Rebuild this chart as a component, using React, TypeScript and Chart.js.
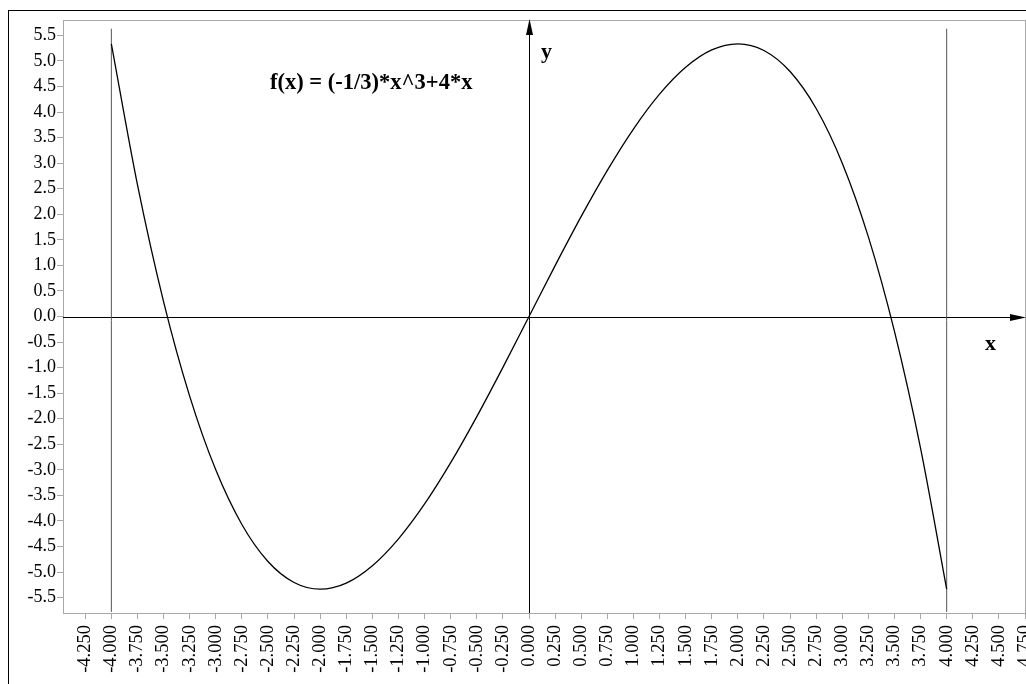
import { useEffect, useRef } from 'react';
import { Chart, registerables } from 'chart.js';

Chart.register(...registerables);

// Curve samples: f(x) = (-1/3)*x^3 + 4*x
const CURVE_X = [
  -4, -3.75, -3.5, -3.25, -3, -2.75, -2.5, -2.25, -2, -1.75, -1.5, -1.25, -1, -0.75, -0.5, -0.25,
  0, 0.25, 0.5, 0.75, 1, 1.25, 1.5, 1.75, 2, 2.25, 2.5, 2.75, 3, 3.25, 3.5, 3.75, 4,
];
const CURVE_Y = [
  5.333, 2.578, 0.292, -1.557, -3.0, -4.068, -4.792, -5.203, -5.333, -5.214, -4.875, -4.349, -3.667,
  -2.859, -1.958, -0.995, 0, 0.995, 1.958, 2.859, 3.667, 4.349, 4.875, 5.214, 5.333, 5.203, 4.792,
  4.068, 3.0, 1.557, -0.292, -2.578, -5.333,
];

// Vertical boundary lines at the interval ends
const BOUNDARY_X = [-4, 4];
const BOUNDARY_Y = [-5.78, 5.63];

// Axis ticks
const X_TICKS = [
  -4.25, -4, -3.75, -3.5, -3.25, -3, -2.75, -2.5, -2.25, -2, -1.75, -1.5, -1.25, -1, -0.75, -0.5,
  -0.25, 0, 0.25, 0.5, 0.75, 1, 1.25, 1.5, 1.75, 2, 2.25, 2.5, 2.75, 3, 3.25, 3.5, 3.75, 4, 4.25,
  4.5, 4.75,
];
const Y_TICKS = [
  -5.5, -5, -4.5, -4, -3.5, -3, -2.5, -2, -1.5, -1, -0.5, 0, 0.5, 1, 1.5, 2, 2.5, 3, 3.5, 4, 4.5,
  5, 5.5,
];
const X_RANGE = [-4.463, 4.75];
const Y_RANGE = [-5.8, 5.8];

const FORMULA = 'f(x) = (-1/3)*x^3+4*x';
const X_NAME = 'x';
const Y_NAME = 'y';

const FONT = '"Liberation Serif", "Times New Roman", Times, serif';

export default function App() {
  const ref = useRef<HTMLCanvasElement | null>(null);

  useEffect(() => {
    const canvas = ref.current;
    if (!canvas) return;

    const decor = {
      id: 'decor',
      beforeDatasetsDraw(chart: any) {
        const { ctx, chartArea: a, scales } = chart;
        const x0 = Math.round(scales.x.getPixelForValue(0)) + 0.5;
        const y0 = Math.round(scales.y.getPixelForValue(0)) + 0.5;
        ctx.save();
        // outer frame
        ctx.strokeStyle = '#000';
        ctx.lineWidth = 1;
        ctx.strokeRect(0.5, 2.5, chart.width + 20, chart.height + 20);
        // plot border
        ctx.strokeStyle = '#a8a8a8';
        ctx.strokeRect(a.left + 0.5, a.top + 0.5, a.right - a.left, a.bottom - a.top);
        // axes through origin
        ctx.strokeStyle = '#000';
        ctx.beginPath();
        ctx.moveTo(a.left, y0);
        ctx.lineTo(a.right - 8, y0);
        ctx.moveTo(x0, a.bottom);
        ctx.lineTo(x0, a.top + 8);
        ctx.stroke();
        ctx.fillStyle = '#000';
        // y arrow
        ctx.beginPath();
        ctx.moveTo(x0, a.top - 1);
        ctx.lineTo(x0 - 3.5, a.top + 15);
        ctx.lineTo(x0 + 3.5, a.top + 15);
        ctx.closePath();
        ctx.fill();
        // x arrow
        ctx.beginPath();
        ctx.moveTo(a.right + 1, y0);
        ctx.lineTo(a.right - 15, y0 - 3.5);
        ctx.lineTo(a.right - 15, y0 + 3.5);
        ctx.closePath();
        ctx.fill();
        ctx.restore();
      },
      afterDraw(chart: any) {
        const { ctx, chartArea: a } = chart;
        ctx.save();
        ctx.fillStyle = '#000';
        ctx.textBaseline = 'alphabetic';
        ctx.textAlign = 'left';
        ctx.font = `bold 22.5px ${FONT}`;
        ctx.fillText(FORMULA, a.left + 207, a.top + 69);
        ctx.font = `bold 22px ${FONT}`;
        ctx.fillText(Y_NAME, a.left + 478, a.top + 38);
        ctx.fillText(X_NAME, a.left + 922, a.top + 330);
        ctx.restore();
      },
    };

    const chart = new Chart(canvas, {
      type: 'scatter',
      data: {
        datasets: [
          {
            label: 'f(x)',
            data: CURVE_X.map((x, i) => ({ x, y: CURVE_Y[i] })),
            showLine: true,
            borderColor: '#000',
            borderWidth: 1.3,
            pointRadius: 0,
            cubicInterpolationMode: 'monotone',
          },
          ...BOUNDARY_X.map((bx) => ({
            label: `x=${bx}`,
            data: BOUNDARY_Y.map((y) => ({ x: bx, y })),
            showLine: true,
            borderColor: '#555',
            borderWidth: 1,
            pointRadius: 0,
          })),
        ],
      },
      options: {
        responsive: false,
        animation: false,
        devicePixelRatio: 1,
        layout: { padding: { top: 12, right: 1, left: 0, bottom: 0 } },
        plugins: {
          legend: { display: false },
          tooltip: { enabled: false },
          title: { display: false },
        },
        scales: {
          x: {
            type: 'linear',
            position: 'bottom',
            min: X_RANGE[0],
            max: X_RANGE[1],
            afterBuildTicks: (s: any) => {
              s.ticks = X_TICKS.map((v) => ({ value: v }));
            },
            afterFit: (s: any) => {
              s.height = 71;
              s.paddingLeft = 0;
              s.paddingRight = 0;
            },
            ticks: {
              autoSkip: false,
              maxRotation: 90,
              minRotation: 90,
              padding: 6,
              color: '#000',
              font: { family: FONT, size: 18.5 },
              callback: (v: any) => Number(v).toFixed(3),
            },
            grid: { drawOnChartArea: false, drawTicks: true, tickLength: 6, color: '#a8a8a8' },
            border: { display: true, color: '#a8a8a8' },
          },
          y: {
            type: 'linear',
            min: Y_RANGE[0],
            max: Y_RANGE[1],
            afterBuildTicks: (s: any) => {
              s.ticks = Y_TICKS.map((v) => ({ value: v }));
            },
            afterFit: (s: any) => {
              s.width = 55;
              s.paddingTop = 0;
              s.paddingBottom = 0;
            },
            ticks: {
              padding: 1,
              color: '#000',
              font: { family: FONT, size: 18 },
              callback: (v: any) => Number(v).toFixed(1),
            },
            grid: { drawOnChartArea: false, drawTicks: true, tickLength: 6, color: '#a8a8a8' },
            border: { display: true, color: '#a8a8a8' },
          },
        },
      },
      plugins: [decor],
    } as any);

    return () => chart.destroy();
  }, []);

  return (
    <div
      style={{
        position: 'fixed',
        left: 0,
        top: 0,
        width: 1026,
        height: 684,
        overflow: 'hidden',
        background: '#fff',
      }}
    >
      <canvas
        ref={ref}
        width={1018}
        height={676}
        style={{ position: 'absolute', left: 8, top: 8, width: 1018, height: 676, display: 'block' }}
      />
    </div>
  );
}
